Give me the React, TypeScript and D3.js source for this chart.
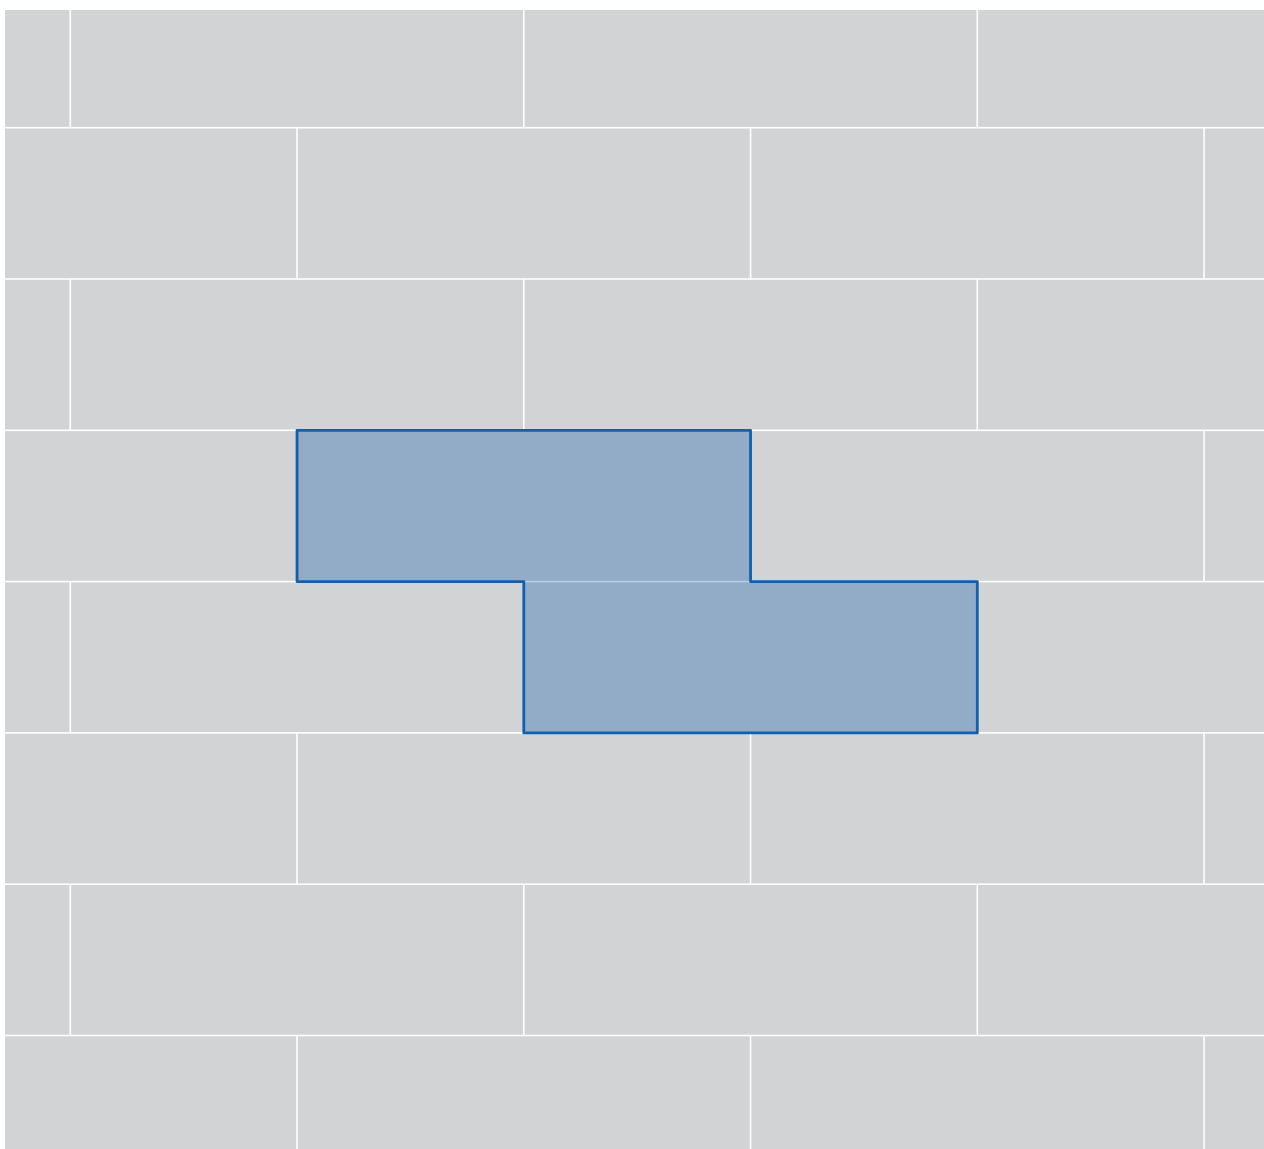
import React from "react";
import * as d3 from "d3";

// Brick wall: rows of bricks, alternating half-brick offset
const rowIndices = [0, 1, 2, 3, 4, 5, 6, 7, 8];
const brickIndices = [-1, 0, 1, 2, 3];
// Highlighted bricks: [row, brick index within row]
const highlighted: [number, number][] = [
  [3, 0],
  [4, 1],
];

const GREY = "#d1d3d5";
const BLUE = "#125fad";

export default function App() {
  const width = 1264;
  const height = 1149;
  const clip = { x0: 5, y0: 10, x1: 1264, y1: 1149 };

  // one brick unit horizontally, one row vertically
  const x = d3.scaleLinear().domain([0, 1]).range([70.3, 523.8]);
  const y = d3.scaleLinear().domain([0, 1]).range([-23.6, 127.7]);

  const offset = (r: number) => (r % 2 === 1 ? 0.5 : 0);
  const gap = 0.8;

  const bricks = rowIndices.flatMap((r) =>
    brickIndices.map((k) => ({ r, k, x0: k + offset(r), x1: k + 1 + offset(r) }))
  );

  // Outline of highlighted union via half-brick cells
  const cells = new Set<string>();
  highlighted.forEach(([r, k]) => {
    const start = (k + offset(r)) * 2;
    cells.add(`${r},${start}`);
    cells.add(`${r},${start + 1}`);
  });
  const segs: string[] = [];
  cells.forEach((key) => {
    const [r, c] = key.split(",").map(Number);
    const xa = x(c / 2), xb = x((c + 1) / 2);
    const ya = y(r), yb = y(r + 1);
    if (!cells.has(`${r - 1},${c}`)) segs.push(`M${xa},${ya}L${xb},${ya}`);
    if (!cells.has(`${r + 1},${c}`)) segs.push(`M${xa},${yb}L${xb},${yb}`);
    if (!cells.has(`${r},${c - 1}`)) segs.push(`M${xa},${ya}L${xa},${yb}`);
    if (!cells.has(`${r},${c + 1}`)) segs.push(`M${xb},${ya}L${xb},${yb}`);
  });

  return (
    <svg
      width={width}
      height={height}
      style={{ position: "absolute", left: 0, top: 0, display: "block" }}
    >
      <defs>
        <clipPath id="wall">
          <rect x={clip.x0} y={clip.y0} width={clip.x1 - clip.x0} height={clip.y1 - clip.y0} />
        </clipPath>
      </defs>
      <rect width={width} height={height} fill="#ffffff" />
      <g clipPath="url(#wall)">
        {bricks.map((b) => (
          <rect
            key={`${b.r}-${b.k}`}
            x={x(b.x0) + gap}
            y={y(b.r) + gap}
            width={x(b.x1) - x(b.x0) - 2 * gap}
            height={y(b.r + 1) - y(b.r) - 2 * gap}
            fill={GREY}
          />
        ))}
        {highlighted.map(([r, k]) => (
          <rect
            key={`h-${r}-${k}`}
            x={x(k + offset(r))}
            y={y(r)}
            width={x(k + 1 + offset(r)) - x(k + offset(r))}
            height={y(r + 1) - y(r)}
            fill={BLUE}
            fillOpacity={0.33}
          />
        ))}
        <path
          d={segs.join("")}
          fill="none"
          stroke={BLUE}
          strokeWidth={2.8}
          strokeLinecap="round"
        />
      </g>
    </svg>
  );
}
